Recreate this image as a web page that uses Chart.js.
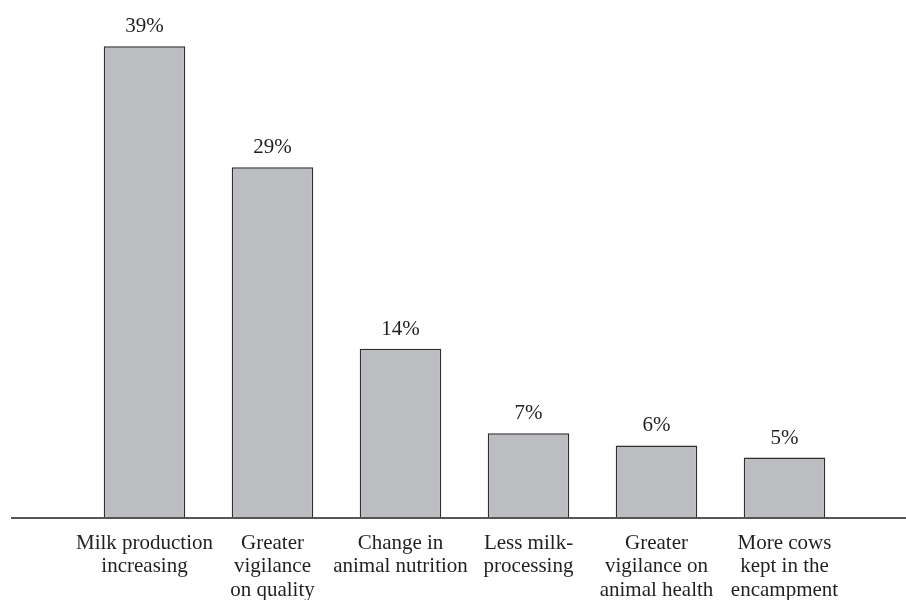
<!DOCTYPE html>
<html>
<head>
<meta charset="utf-8">
<style>
  html, body { margin: 0; padding: 0; background: #ffffff; }
  #wrap { width: 906px; height: 600px; }
</style>
<script src="https://cdn.jsdelivr.net/npm/chart.js@4/dist/chart.umd.min.js"></script>
</head>
<body>
<div id="wrap"><canvas id="c" width="906" height="600"></canvas></div>
<script>
// ---- data ----
const categories = [
  ["Milk production", "increasing"],
  ["Greater", "vigilance", "on quality"],
  ["Change in", "animal nutrition"],
  ["Less milk-", "processing"],
  ["Greater", "vigilance on", "animal health"],
  ["More cows", "kept in the", "encampment"]
];
const shares = [39, 29, 14, 7, 6, 5];
const shareLabels = ["39%", "29%", "14%", "7%", "6%", "5%"];

const FONT = "'Liberation Serif', 'Times New Roman', serif";

const valueLabelPlugin = {
  id: 'valueLabels',
  afterDatasetsDraw(chart) {
    const ctx = chart.ctx;
    const meta = chart.getDatasetMeta(0);
    ctx.save();
    ctx.font = "21px " + FONT;
    ctx.fillStyle = '#231f20';
    ctx.textAlign = 'center';
    ctx.textBaseline = 'alphabetic';
    meta.data.forEach((bar, i) => {
      ctx.fillText(shareLabels[i], bar.x, bar.y - 14);
    });
    ctx.restore();
  }
};

const baselinePlugin = {
  id: 'baseline',
  afterDatasetsDraw(chart) {
    const ctx = chart.ctx;
    const y = chart.scales.y.getPixelForValue(0);
    ctx.save();
    ctx.strokeStyle = '#555555';
    ctx.lineWidth = 2;
    ctx.beginPath();
    ctx.moveTo(11, y);
    ctx.lineTo(chart.width, y);
    ctx.stroke();
    ctx.restore();
  }
};

new Chart(document.getElementById('c'), {
  type: 'bar',
  data: {
    labels: categories,
    datasets: [{
      data: shares,
      backgroundColor: '#bcbdc1',
      borderColor: '#2e2e2e',
      borderWidth: 1.5,
      borderSkipped: 'start',
      barPercentage: 1,
      categoryPercentage: 0.637
    }]
  },
  options: {
    responsive: false,
    animation: false,
    devicePixelRatio: 1,
    layout: { padding: { left: 80.5, right: 57.5, top: 10, bottom: 0 } },
    plugins: {
      legend: { display: false },
      tooltip: { enabled: false },
      title: { display: false }
    },
    scales: {
      x: {
        grid: { display: false, drawTicks: false },
        border: { display: false },
        ticks: {
          autoSkip: false,
          maxRotation: 0,
          minRotation: 0,
          padding: 13.5,
          color: '#231f20',
          font: { family: FONT, size: 21, lineHeight: 1.12 }
        },
        afterFit(scale) { scale.height = 82; }
      },
      y: {
        display: false,
        min: 0,
        max: 42
      }
    }
  },
  plugins: [valueLabelPlugin, baselinePlugin]
});
</script>
</body>
</html>
